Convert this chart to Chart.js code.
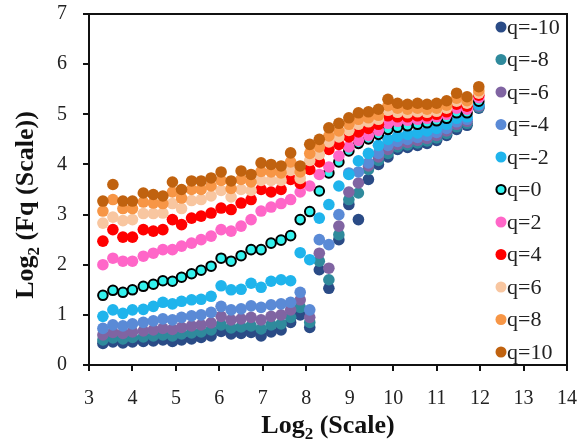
<!DOCTYPE html>
<html>
<head>
<meta charset="utf-8">
<script src="https://cdn.jsdelivr.net/npm/chart.js@4.4.1/dist/chart.umd.min.js"></script>
<style>
  html, body { margin: 0; padding: 0; background: #fff; }
  #wrap { width: 579px; height: 445px; }
</style>
</head>
<body>
<div id="wrap"><canvas id="chart" width="579" height="445"></canvas></div>
<script>
// Data
const scaleLog2 = [3.32, 3.55, 3.78, 4.00, 4.25, 4.48, 4.70, 4.92, 5.13, 5.36,
    5.58, 5.81, 6.04, 6.27, 6.50, 6.73, 6.96, 7.19, 7.42, 7.64,
    7.86, 8.08, 8.30, 8.52, 8.75, 8.98, 9.20, 9.43, 9.66, 9.88,
    10.10, 10.33, 10.56, 10.78, 11.00, 11.23, 11.46, 11.70, 11.97];

const qLabels = ['q=-10', 'q=-8', 'q=-6', 'q=-4', 'q=-2', 'q=0', 'q=2', 'q=4', 'q=6', 'q=8', 'q=10'];

const qMinus10 = [0.43, 0.46, 0.44, 0.46, 0.47, 0.48, 0.50, 0.47, 0.50, 0.52, 0.55, 0.58, 0.67, 0.62, 0.63, 0.65, 0.58, 0.66, 0.70, 0.85,
    1.00, 0.75, 1.90, 1.53, 2.50, 3.20, 2.90, 3.70, 4.00,
    4.15, 4.30, 4.34, 4.38, 4.42, 4.48, 4.58, 4.70, 4.78, 5.12];
const qMinus8 = [0.50, 0.54, 0.52, 0.55, 0.56, 0.58, 0.60, 0.58, 0.62, 0.64, 0.66, 0.70, 0.80, 0.74, 0.76, 0.78, 0.72, 0.80, 0.82, 0.95,
    1.15, 0.85, 2.07, 1.70, 2.60, 3.30, 3.43, 3.90, 4.08,
    4.22, 4.35, 4.39, 4.43, 4.47, 4.53, 4.62, 4.75, 4.82, 5.14];
const qMinus6 = [0.60, 0.65, 0.63, 0.66, 0.68, 0.70, 0.73, 0.71, 0.75, 0.78, 0.80, 0.84, 0.97, 0.90, 0.92, 0.95, 0.90, 0.97, 1.00, 1.10,
    1.30, 0.95, 2.23, 1.93, 2.77, 3.45, 3.63, 3.97, 4.15,
    4.30, 4.40, 4.44, 4.48, 4.52, 4.58, 4.67, 4.80, 4.86, 5.16];
const qMinus4 = [0.73, 0.80, 0.78, 0.82, 0.85, 0.88, 0.92, 0.90, 0.95, 0.98, 1.00, 1.05, 1.17, 1.10, 1.12, 1.18, 1.15, 1.20, 1.22, 1.25,
    1.45, 1.10, 2.50, 2.40, 3.00, 3.83, 3.85, 4.03, 4.22,
    4.38, 4.46, 4.50, 4.54, 4.58, 4.64, 4.72, 4.85, 4.90, 5.18];
const qMinus2 = [0.97, 1.10, 1.03, 1.10, 1.11, 1.17, 1.25, 1.22, 1.27, 1.30, 1.31, 1.37, 1.58, 1.50, 1.51, 1.63, 1.55, 1.67, 1.70, 1.68,
    2.24, 2.10, 2.93, 3.20, 3.57, 3.80, 4.07, 4.22, 4.38,
    4.50, 4.56, 4.60, 4.63, 4.67, 4.72, 4.80, 4.92, 4.95, 5.20];
const qZero = [1.39, 1.49, 1.45, 1.50, 1.57, 1.61, 1.68, 1.67, 1.75, 1.82, 1.89, 1.97, 2.13, 2.07, 2.18, 2.30, 2.30,
    2.43, 2.49, 2.58, 2.90, 3.06, 3.47, 3.83, 4.05, 4.27, 4.42, 4.51, 4.60,
    4.70, 4.74, 4.77, 4.80, 4.83, 4.87, 4.92, 5.03, 5.03, 5.26];
const qPlus2 = [2.00, 2.13, 2.07, 2.07, 2.17, 2.23, 2.30, 2.30, 2.37, 2.43, 2.50, 2.57, 2.70, 2.67, 2.77, 2.90, 3.07,
    3.15, 3.22, 3.30, 3.45, 3.57, 3.80, 3.95, 4.17, 4.35, 4.48, 4.58, 4.68,
    4.82, 4.86, 4.88, 4.90, 4.92, 4.95, 5.00, 5.12, 5.10, 5.33];
const qPlus4 = [2.47, 2.70, 2.55, 2.55, 2.70, 2.67, 2.70, 2.90, 2.80, 2.93, 2.97, 3.03, 3.13, 3.10, 3.23, 3.30, 3.50,
    3.45, 3.50, 3.70, 3.62, 3.90, 4.05, 4.30, 4.40, 4.55, 4.65, 4.72, 4.80,
    4.97, 4.95, 4.95, 4.97, 4.97, 5.00, 5.05, 5.20, 5.16, 5.38];
const qPlus6 = [2.83, 2.95, 2.88, 2.90, 3.02, 3.02, 3.03, 3.22, 3.12, 3.28, 3.30, 3.37, 3.48, 3.35, 3.50, 3.48, 3.68,
    3.68, 3.68, 3.88, 3.72, 4.08, 4.20, 4.45, 4.55, 4.68, 4.80, 4.85, 4.90,
    5.08, 5.04, 5.03, 5.05, 5.04, 5.06, 5.12, 5.26, 5.22, 5.42];
const qPlus8 = [3.07, 3.30, 3.12, 3.12, 3.25, 3.23, 3.22, 3.45, 3.33, 3.50, 3.50, 3.57, 3.68, 3.52, 3.70, 3.65, 3.86,
    3.85, 3.83, 4.05, 3.85, 4.22, 4.35, 4.57, 4.67, 4.80, 4.90, 4.93, 4.98,
    5.17, 5.12, 5.10, 5.12, 5.10, 5.12, 5.18, 5.32, 5.27, 5.47];
const qPlus10 = [3.27, 3.60, 3.27, 3.27, 3.43, 3.40, 3.37, 3.65, 3.50, 3.67, 3.67, 3.73, 3.85, 3.67, 3.87, 3.80, 4.03,
    4.00, 3.97, 4.23, 3.97, 4.40, 4.50, 4.73, 4.82, 4.93, 5.03, 5.05, 5.10,
    5.30, 5.22, 5.20, 5.22, 5.20, 5.22, 5.27, 5.42, 5.35, 5.55];

const xTicks = [3, 4, 5, 6, 7, 8, 9, 10, 11, 12, 13, 14];
const yTicks = [0, 1, 2, 3, 4, 5, 6, 7];

// Styles
const qSeries = [qMinus10, qMinus8, qMinus6, qMinus4, qMinus2, qZero, qPlus2, qPlus4, qPlus6, qPlus8, qPlus10];
const qColors = ['#2A4B86', '#2F8A9C', '#8064A2', '#5A8AD6', '#1FB4EC', '#33F2EE',
    '#FF66C8', '#FF0000', '#F8C6A0', '#F79646', '#C0620F'];

const SERIF = '"Liberation Serif", "Times New Roman", serif';

const datasets = qSeries.map((vals, i) => {
    const isZero = qLabels[i] === 'q=0';
    return {
        label: qLabels[i],
        data: vals.map((v, j) => ({ x: scaleLog2[j], y: v })),
        backgroundColor: qColors[i],
        borderColor: isZero ? '#000' : qColors[i],
        borderWidth: isZero ? 2 : 0,
        pointRadius: isZero ? 4.8 : 5.8,
        pointHoverRadius: isZero ? 4.8 : 5.8,
        showLine: false,
        order: qSeries.length - 1 - i   // later series drawn on top
    };
});

// Box frame around plot area
const framePlugin = {
    id: 'frame',
    afterDatasetsDraw(chart) {
        const { ctx, chartArea: a } = chart;
        ctx.save();
        ctx.strokeStyle = '#111';
        ctx.lineWidth = 2;
        ctx.strokeRect(a.left, a.top, a.right - a.left, a.bottom - a.top);
        ctx.restore();
    }
};

// Legend inside the plot, right side
const sideLegend = {
    id: 'sideLegend',
    afterDraw(chart) {
        const { ctx, chartArea: a } = chart;
        ctx.save();
        ctx.font = '22px ' + SERIF;
        ctx.textBaseline = 'middle';
        chart.data.datasets.forEach((ds, i) => {
            const y = a.top + 13 + i * 32.5;
            const x = a.right - 66;
            ctx.beginPath();
            ctx.arc(x, y, ds.borderWidth ? 4.6 : 5.5, 0, Math.PI * 2);
            ctx.fillStyle = ds.backgroundColor;
            ctx.fill();
            if (ds.borderWidth) {
                ctx.lineWidth = ds.borderWidth;
                ctx.strokeStyle = ds.borderColor;
                ctx.stroke();
            }
            ctx.fillStyle = '#222';
            ctx.fillText(ds.label, x + 6, y + 1);
        });
        ctx.restore();
    }
};

// Axis titles with subscript 2
function drawSubTitle(ctx, before, sub, after, cx, baseline, angle) {
    const big = 'bold 26px ' + SERIF;
    const small = 'bold 17px ' + SERIF;
    ctx.save();
    ctx.translate(cx, baseline);
    ctx.rotate(angle);
    ctx.font = big;
    const w1 = ctx.measureText(before).width;
    const w3 = ctx.measureText(after).width;
    ctx.font = small;
    const w2 = ctx.measureText(sub).width;
    let x = -(w1 + w2 + w3) / 2;
    ctx.fillStyle = '#111';
    ctx.textBaseline = 'alphabetic';
    ctx.font = big;   ctx.fillText(before, x, 0); x += w1;
    ctx.font = small; ctx.fillText(sub, x, 6);    x += w2;
    ctx.font = big;   ctx.fillText(after, x, 0);
    ctx.restore();
}

const titlesPlugin = {
    id: 'titles',
    afterDraw(chart) {
        const ctx = chart.ctx;
        drawSubTitle(ctx, 'Log', '2', ' (Scale)', 328, 433, 0);
        drawSubTitle(ctx, 'Log', '2', ' (Fq (Scale))', 33, 205, -Math.PI / 2);
    }
};

new Chart(document.getElementById('chart'), {
    type: 'scatter',
    data: { datasets },
    options: {
        responsive: false,
        animation: false,
        events: [],
        layout: { padding: { top: 14, right: 12, left: 0, bottom: 0 } },
        plugins: {
            legend: { display: false },
            tooltip: { enabled: false }
        },
        scales: {
            x: {
                type: 'linear',
                min: xTicks[0],
                max: xTicks[xTicks.length - 1],
                afterFit: (s) => { s.height = 80; s.paddingLeft = 0; s.paddingRight = 0; },
                afterBuildTicks: (s) => { s.ticks = xTicks.map(v => ({ value: v })); },
                border: { display: true, color: '#111', width: 2 },
                grid: { drawOnChartArea: false, drawTicks: true, tickLength: 6, color: '#111', lineWidth: 2 },
                ticks: { color: '#222', padding: 16, maxRotation: 0, font: { family: SERIF, size: 20 } }
            },
            y: {
                type: 'linear',
                min: yTicks[0],
                max: yTicks[yTicks.length - 1],
                afterFit: (s) => { s.width = 89; s.paddingTop = 0; s.paddingBottom = 0; },
                afterBuildTicks: (s) => { s.ticks = yTicks.map(v => ({ value: v })); },
                border: { display: true, color: '#111', width: 2 },
                grid: { drawOnChartArea: false, drawTicks: true, tickLength: 6, color: '#111', lineWidth: 2 },
                ticks: { color: '#222', padding: 16, font: { family: SERIF, size: 20 } }
            }
        }
    },
    plugins: [framePlugin, sideLegend, titlesPlugin]
});
</script>
</body>
</html>
